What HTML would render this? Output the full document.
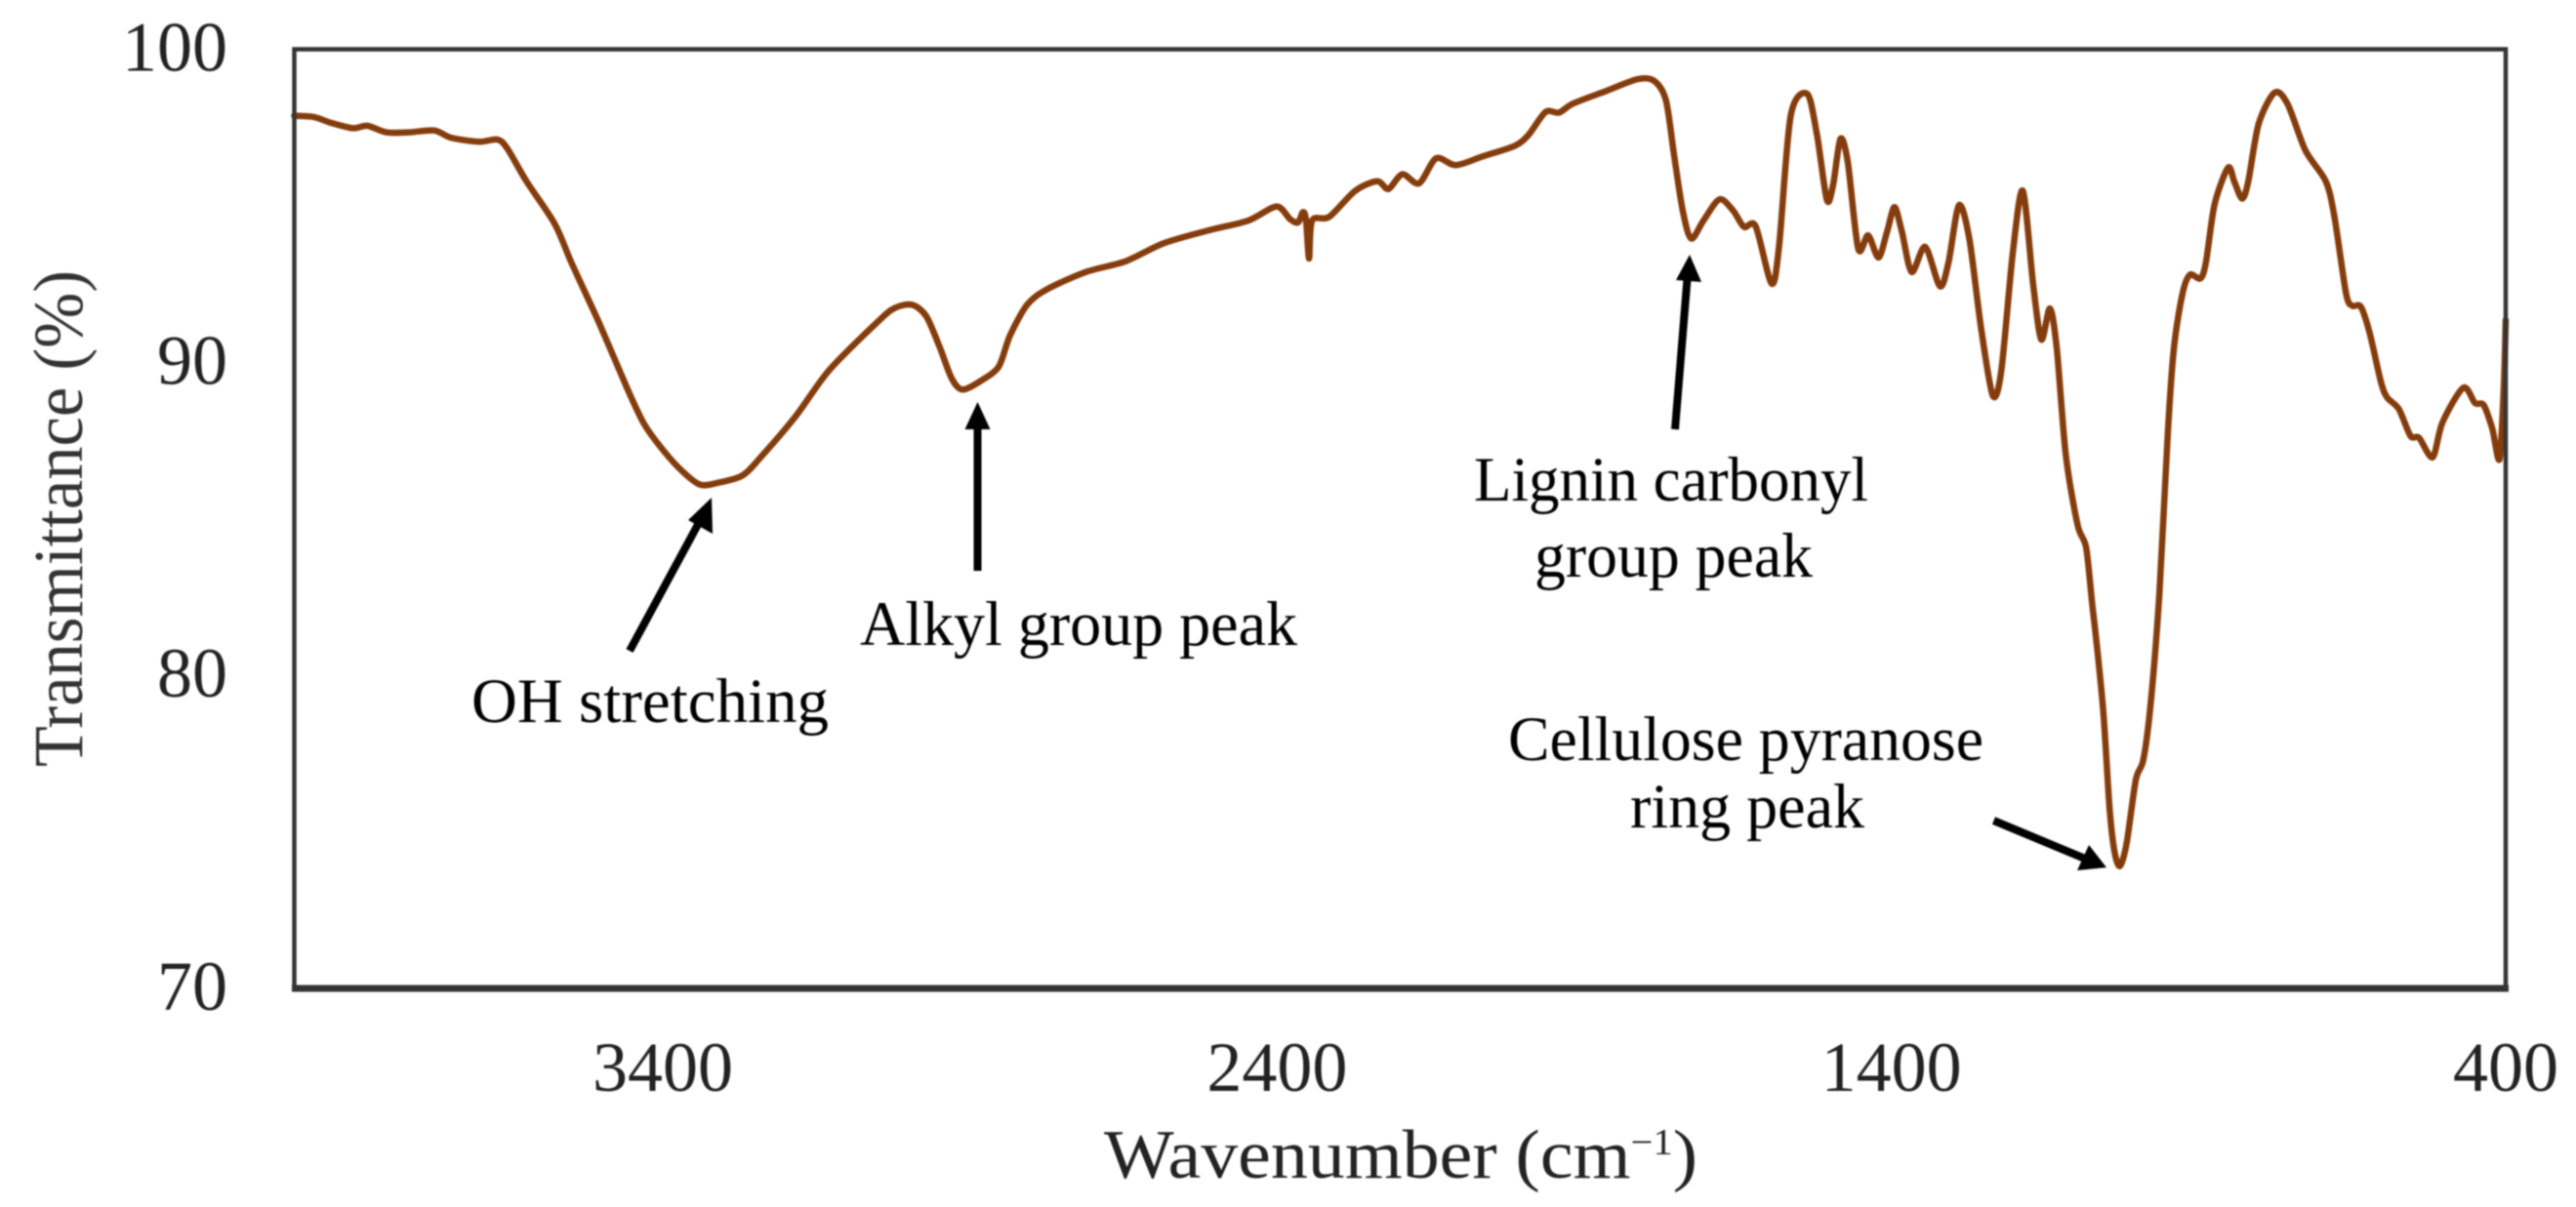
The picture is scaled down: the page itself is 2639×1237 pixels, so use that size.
<!DOCTYPE html>
<html lang="en">
<head>
<meta charset="utf-8">
<title>FTIR transmittance spectrum</title>
<style>
html,body{margin:0;padding:0;background:#fff;width:2639px;height:1237px;overflow:hidden}
svg{display:block;filter:blur(0.8px)}
text{font-family:"Liberation Serif",serif}
</style>
</head>
<body>
<svg id="chart" xmlns="http://www.w3.org/2000/svg" width="2639" height="1237" viewBox="0 0 2639 1237">
  <rect x="0" y="0" width="2639" height="1237" fill="#fff"/>
  <g id="ticks-layer"></g>
  <path id="curve" fill="none" stroke="#843c0c" stroke-width="6.5" stroke-linejoin="round" stroke-linecap="round"/>
  <rect x="301.5" y="50.5" width="2265.5" height="962" fill="none" stroke="#333" stroke-width="4.5"/>
  <line x1="299" y1="1013" x2="2570" y2="1013" stroke="#333" stroke-width="7"/>
  <text x="1131" y="1207" font-size="71" fill="#222" textLength="608" lengthAdjust="spacingAndGlyphs">Wavenumber (cm<tspan font-size="38" dy="-24">−1</tspan><tspan dy="24">)</tspan></text>
  <text transform="translate(84,786) rotate(-90)" x="0" y="0" font-size="72" fill="#333" textLength="509" lengthAdjust="spacingAndGlyphs">Transmittance (%)</text>

  <text x="483" y="740" font-size="65" fill="#000" textLength="366" lengthAdjust="spacingAndGlyphs">OH stretching</text>
  <text x="881" y="661" font-size="65" fill="#000" textLength="448" lengthAdjust="spacingAndGlyphs">Alkyl group peak</text>
  <text x="1510" y="513" font-size="65" fill="#000" textLength="404" lengthAdjust="spacingAndGlyphs">Lignin carbonyl</text>
  <text x="1572" y="591" font-size="65" fill="#000" textLength="285" lengthAdjust="spacingAndGlyphs">group peak</text>
  <text x="1545" y="779" font-size="65" fill="#000" textLength="487" lengthAdjust="spacingAndGlyphs">Cellulose pyranose</text>
  <text x="1670" y="848" font-size="65" fill="#000" textLength="240" lengthAdjust="spacingAndGlyphs">ring peak</text>

  <g>
    <line x1="645" y1="667" x2="718" y2="532" stroke="#000" stroke-width="8"/>
    <polygon points="729,510 730,547 705,533" fill="#000"/>
  </g>
  <g>
    <line x1="1001.5" y1="585" x2="1001.5" y2="430" stroke="#000" stroke-width="8"/>
    <polygon points="1001.5,412 1014.5,440 988.5,440" fill="#000"/>
  </g>
  <g>
    <line x1="1716" y1="440" x2="1729" y2="280" stroke="#000" stroke-width="8"/>
    <polygon points="1731,261 1743,289 1717,287" fill="#000"/>
  </g>
  <g>
    <line x1="2042.5" y1="841" x2="2136" y2="880" stroke="#000" stroke-width="8"/>
    <polygon points="2158,889 2128,892 2140,866" fill="#000"/>
  </g>
</svg>
<script>
const wavenumbers = [4000,3968,3941,3904,3881,3850,3813,3772,3745,3699,3669,3653,3622,3576,3549,3503,3457,3430,3398,3366,3339,3311,3270,3238,3184,3129,3049,3022,2994,2971,2949,2930,2912,2880,2853,2835,2807,2775,2711,2648,2584,2511,2447,2401,2379,2366,2358,2353,2348,2343,2315,2273,2237,2219,2196,2169,2141,2109,2064,2013,1991,1963,1941,1918,1863,1813,1786,1767,1754,1740,1726,1706,1680,1658,1640,1621,1595,1583,1564,1537,1521,1505,1495,1483,1471,1454,1438,1421,1407,1395,1383,1367,1345,1321,1307,1290,1273,1254,1235,1221,1202,1186,1169,1156,1142,1131,1116,1097,1083,1073,1067,1055,1045,1037,1028,1017,1002,990,978,964,950,940,926,914,897,888,874,852,842,829,819,802,776,755,726,693,679,660,650,636,622,603,593,574,555,541,519,503,469,450,436,422,410,403,400];
const transmittance = [97.88,97.84,97.66,97.48,97.56,97.35,97.35,97.41,97.18,97.05,97.12,96.83,95.79,94.43,93.20,91.23,89.13,88.02,87.16,86.48,86.09,86.15,86.39,87.03,88.27,89.75,91.32,91.74,91.84,91.47,90.48,89.50,89.13,89.44,89.87,90.85,91.84,92.33,92.89,93.22,93.81,94.22,94.53,94.98,94.58,94.47,94.80,94.56,93.32,94.53,94.65,95.48,95.79,95.54,96.01,95.72,96.52,96.30,96.59,96.92,97.26,98.00,97.98,98.27,98.68,99.05,98.99,98.37,96.65,94.88,93.96,94.53,95.21,94.86,94.33,94.35,92.52,93.69,97.88,98.58,97.26,95.19,95.66,97.14,96.40,93.63,94.06,93.35,94.18,94.96,94.18,92.89,93.69,92.43,93.20,95.02,93.93,91.10,88.94,89.75,93.57,95.48,92.46,90.73,91.72,90.48,87.03,84.81,84.08,82.25,81.23,78.82,75.78,74.39,73.91,74.65,76.67,77.30,79.08,82.56,87.77,90.48,92.21,92.80,92.68,93.20,95.04,96.22,95.79,95.23,95.79,97.63,98.62,98.25,96.77,95.79,94.68,92.21,91.81,91.78,90.98,89.37,88.88,88.51,87.65,87.59,86.97,88.08,89.19,88.70,88.64,87.89,86.91,89.25,91.35];
const xTickLabels = [3400,2400,1400,400];
const yTickLabels = [100,90,80,70];

const xAxis = w => 2567 - (w - 400) * (2265.6 / 3600);
const yAxis = t => 50.6 + (100 - t) * (962.4 / 30);

const svgNS = 'http://www.w3.org/2000/svg';
const ticksLayer = document.getElementById('ticks-layer');

xTickLabels.forEach(v => {
  const el = document.createElementNS(svgNS, 'text');
  
  
  el.setAttribute('x', xAxis(v));
  el.setAttribute('y', 1118);
  el.setAttribute('text-anchor', 'middle');
  el.setAttribute('font-size', '72');
  el.setAttribute('fill', '#222');
  el.textContent = v;
  ticksLayer.appendChild(el);
});

yTickLabels.forEach(v => {
  const el = document.createElementNS(svgNS, 'text');
  
  
  el.setAttribute('x', 233);
  el.setAttribute('y', yAxis(v) + 22);
  el.setAttribute('text-anchor', 'end');
  el.setAttribute('font-size', '72');
  el.setAttribute('fill', '#222');
  el.textContent = v;
  ticksLayer.appendChild(el);
});

const pts = wavenumbers.map((w, i) => [xAxis(w), yAxis(transmittance[i])]);
let d = 'M' + pts[0][0].toFixed(1) + ' ' + pts[0][1].toFixed(1);
for (let i = 0; i < pts.length - 1; i++) {
  const p0 = pts[Math.max(0, i - 1)], p1 = pts[i], p2 = pts[i + 1], p3 = pts[Math.min(pts.length - 1, i + 2)];
  const k = 1 / 7;
  const c1x = p1[0] + (p2[0] - p0[0]) * k, c1y = p1[1] + (p2[1] - p0[1]) * k;
  const c2x = p2[0] - (p3[0] - p1[0]) * k, c2y = p2[1] - (p3[1] - p1[1]) * k;
  d += ' C' + c1x.toFixed(1) + ' ' + c1y.toFixed(1) + ' ' + c2x.toFixed(1) + ' ' + c2y.toFixed(1) + ' ' + p2[0].toFixed(1) + ' ' + p2[1].toFixed(1);
}
document.getElementById('curve').setAttribute('d', d);
</script>
</body>
</html>
